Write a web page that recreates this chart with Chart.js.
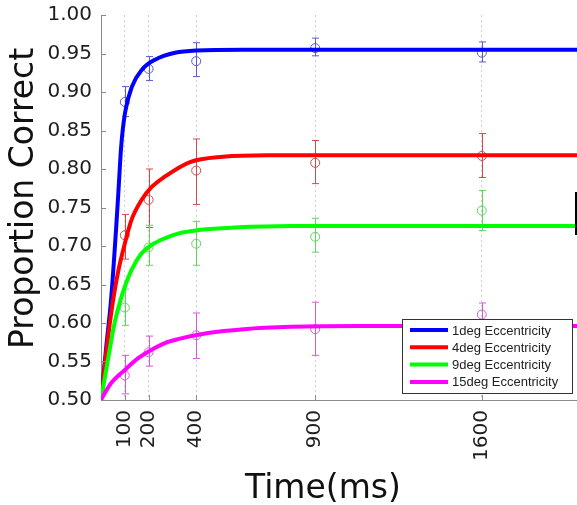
<!DOCTYPE html>
<html>
<head>
<meta charset="utf-8">
<script src="https://cdn.jsdelivr.net/npm/chart.js@4.4.1/dist/chart.umd.min.js"></script>
<style>
html, body { margin: 0; padding: 0; background: #fff; }
</style>
</head>
<body>
<canvas id="chart" width="577" height="505"></canvas>
<script>
// x positions of the measured points (ms)
const timeTicks = [100, 200, 400, 900, 1600];

const seriesNames = ['1deg Eccentricity', '4deg Eccentricity', '9deg Eccentricity', '15deg Eccentricity'];
const lineColors = ['#0000ff', '#ff0000', '#00ff00', '#ff00ff'];
const markColors = ['#5a5ad4', '#d04a4a', '#5cd65c', '#d85ad8'];

const mean1 = [0.887, 0.930, 0.940, 0.957, 0.951];
const low1 = [0.868, 0.915, 0.920, 0.947, 0.939];
const high1 = [0.907, 0.946, 0.964, 0.970, 0.965];

const mean4 = [0.714, 0.760, 0.798, 0.808, 0.817];
const low4 = [0.683, 0.724, 0.754, 0.781, 0.789];
const high4 = [0.741, 0.800, 0.839, 0.837, 0.846];

const mean9 = [0.620, 0.698, 0.703, 0.712, 0.746];
const low9 = [0.597, 0.675, 0.675, 0.692, 0.720];
const high9 = [0.644, 0.727, 0.732, 0.736, 0.772];

const mean15 = [0.532, 0.562, 0.584, 0.592, 0.611];
const low15 = [0.508, 0.544, 0.554, 0.558, 0.596];
const high15 = [0.558, 0.583, 0.613, 0.627, 0.626];

// fitted curves, sampled by eye along the drawn lines
const fitT1 = [0, 22, 43, 64, 74, 85, 101, 130, 172, 227, 311, 400, 600, 2000];
const fitY1 = [0.500, 0.569, 0.633, 0.725, 0.775, 0.830, 0.873, 0.907, 0.929, 0.942, 0.951, 0.954, 0.955, 0.955];

const fitT4 = [0, 22, 43, 71, 100, 127, 169, 211, 268, 374, 513, 700, 2000];
const fitY4 = [0.500, 0.561, 0.613, 0.665, 0.703, 0.733, 0.759, 0.776, 0.790, 0.809, 0.816, 0.818, 0.818];

const fitT9 = [0, 29, 57, 85, 127, 169, 211, 268, 323, 420, 560, 800, 2000];
const fitY9 = [0.500, 0.552, 0.600, 0.633, 0.668, 0.690, 0.701, 0.710, 0.716, 0.721, 0.724, 0.726, 0.726];

const fitT15 = [0, 20, 43, 100, 155, 211, 268, 323, 450, 600, 800, 1100, 2000];
const fitY15 = [0.500, 0.511, 0.522, 0.539, 0.554, 0.565, 0.574, 0.579, 0.587, 0.592, 0.595, 0.596, 0.596];

const means = [mean1, mean4, mean9, mean15];
const lows = [low1, low4, low9, low15];
const highs = [high1, high4, high9, high15];
const fitTs = [fitT1, fitT4, fitT9, fitT15];
const fitYs = [fitY1, fitY4, fitY9, fitY15];

const FONT = '"DejaVu Sans", sans-serif';

function pts(xs, ys) {
  return xs.map((x, i) => ({ x: x, y: ys[i] }));
}

const datasets = [];
// curves first so they are painted on top (magenta on top like the original)
[3, 2, 1, 0].forEach(i => {
  datasets.push({
    label: seriesNames[i],
    data: pts(fitTs[i], fitYs[i]),
    borderColor: lineColors[i],
    borderWidth: 4,
    pointRadius: 0,
    fill: false,
    cubicInterpolationMode: 'monotone'
  });
});
[0, 1, 2, 3].forEach(i => {
  datasets.push({
    label: seriesNames[i] + ' data',
    data: pts(timeTicks, means[i]),
    showLine: false,
    pointRadius: 4.5,
    pointBorderWidth: 1,
    pointBorderColor: markColors[i],
    pointBackgroundColor: 'rgba(0,0,0,0)'
  });
});

const extras = {
  id: 'extras',
  beforeDatasetsDraw(chart) {
    const ctx = chart.ctx;
    const xs = chart.scales.x, ys = chart.scales.y;
    ctx.save();
    ctx.lineWidth = 1;
    for (let i = 0; i < 4; i++) {
      ctx.strokeStyle = markColors[i];
      timeTicks.forEach((t, j) => {
        const px = Math.round(xs.getPixelForValue(t)) + 0.5;
        const yl = ys.getPixelForValue(lows[i][j]);
        const yh = ys.getPixelForValue(highs[i][j]);
        ctx.beginPath();
        ctx.moveTo(px, yl); ctx.lineTo(px, yh);
        ctx.moveTo(px - 3.5, yl); ctx.lineTo(px + 3.5, yl);
        ctx.moveTo(px - 3.5, yh); ctx.lineTo(px + 3.5, yh);
        ctx.stroke();
      });
    }
    ctx.restore();
  },
  afterDraw(chart) {
    const ctx = chart.ctx;
    const xs = chart.scales.x, ys = chart.scales.y;
    const area = chart.chartArea;
    ctx.save();
    // inward tick marks
    ctx.strokeStyle = '#8a8a8a';
    ctx.lineWidth = 1;
    ctx.beginPath();
    ys.ticks.forEach(t => {
      const py = Math.round(ys.getPixelForValue(t.value)) + 0.5;
      ctx.moveTo(area.left, py); ctx.lineTo(area.left + 5, py);
    });
    timeTicks.forEach(t => {
      const px = Math.round(xs.getPixelForValue(t)) + 0.5;
      ctx.moveTo(px, area.bottom); ctx.lineTo(px, area.bottom - 5);
    });
    ctx.stroke();

    // legend box
    const bx = 402, by = 319, bw = 170, bh = 74;
    ctx.fillStyle = '#ffffff';
    ctx.fillRect(bx, by, bw, bh);
    ctx.strokeStyle = '#333';
    ctx.lineWidth = 1;
    ctx.strokeRect(bx + 0.5, by + 0.5, bw, bh);
    ctx.font = '13px "Liberation Sans", Arial, sans-serif';
    ctx.textBaseline = 'middle';
    ctx.textAlign = 'left';
    for (let i = 0; i < 4; i++) {
      const ry = by + 11 + i * 17.3;
      ctx.strokeStyle = lineColors[i];
      ctx.lineWidth = 4;
      ctx.beginPath();
      ctx.moveTo(410, ry); ctx.lineTo(448, ry);
      ctx.stroke();
      ctx.fillStyle = '#222';
      ctx.fillText(seriesNames[i], 452, ry + 1);
    }

    // axis titles
    ctx.fillStyle = '#111';
    ctx.font = '33px ' + FONT;
    ctx.textBaseline = 'alphabetic';
    ctx.textAlign = 'left';
    ctx.fillText('Time(ms)', 245, 498);
    ctx.save();
    ctx.translate(33, 349);
    ctx.rotate(-Math.PI / 2);
    ctx.fillText('Proportion Correct', 0, 0);
    ctx.restore();

    // clipped edge of a neighbouring panel
    ctx.fillStyle = '#000';
    ctx.fillRect(575, 192, 2, 43);
    ctx.restore();
  }
};

new Chart(document.getElementById('chart'), {
  type: 'line',
  data: { datasets: datasets },
  options: {
    responsive: false,
    animation: false,
    layout: { autoPadding: false, padding: { top: 15, left: 0, right: 0, bottom: 0 } },
    plugins: { legend: { display: false }, tooltip: { enabled: false } },
    scales: {
      x: {
        type: 'linear',
        min: 0,
        max: 2000,
        afterBuildTicks: scale => { scale.ticks = timeTicks.map(v => ({ value: v })); },
        afterFit: scale => {
          scale.height = 105;
          scale.paddingLeft = 0;
          scale.paddingRight = 0;
        },
        ticks: {
          autoSkip: false,
          minRotation: 90,
          maxRotation: 90,
          padding: 10,
          color: '#1e1e1e',
          font: { family: FONT, size: 20 },
          callback: v => String(v)
        },
        grid: { display: true, color: '#cfcfcf', lineWidth: 1, drawTicks: false },
        border: { display: true, color: '#8a8a8a', width: 1, dash: [2, 3] }
      },
      y: {
        min: 0.5,
        max: 1.0,
        afterFit: scale => {
          scale.width = 101;
          scale.paddingTop = 0;
          scale.paddingBottom = 0;
        },
        ticks: {
          stepSize: 0.05,
          padding: 9,
          color: '#1e1e1e',
          font: { family: FONT, size: 20 },
          callback: v => v.toFixed(2)
        },
        grid: { display: false, drawTicks: false },
        border: { display: true, color: '#8a8a8a', width: 1 }
      }
    }
  },
  plugins: [extras]
});
</script>
</body>
</html>
